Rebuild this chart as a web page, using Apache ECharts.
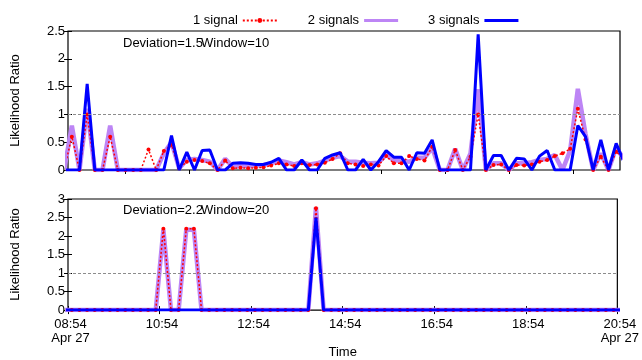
<!DOCTYPE html>
<html>
<head>
<meta charset="utf-8">
<script src="https://cdn.jsdelivr.net/npm/echarts@6/dist/echarts.min.js"></script>
<style>
html, body { margin: 0; padding: 0; background: #fff; }
#chart { width: 642px; height: 360px; }
</style>
</head>
<body>
<div id="chart"></div>
<script>
// Samples every 10 minutes; offsets are minutes after 08:54 (first and last lie just outside the axis)
const firstOffset = -5;
const stepMinutes = 10;
const axisStartMinutes = 8 * 60 + 54;
const axisSpanMinutes = 720;
const dateLabel = 'Apr 27';
const seriesNames = ['1 signal', '2 signals', '3 signals'];

// Window = 10
const oneSignalW10 = [0, 0.6, 0, 1.0, 0, 0, 0.6, 0, 0, 0, 0, 0.37, 0, 0.34, 0.45, 0.03, 0.15, 0.18, 0.16, 0.12, 0,
  0.17, 0.03, 0.04, 0.03, 0.04, 0.05, 0.08, 0.12, 0.1, 0.07, 0.12, 0.09, 0.1, 0.13, 0.2, 0.3, 0.12, 0.1, 0.07, 0.1,
  0.08, 0.25, 0.12, 0.12, 0.25, 0.2, 0.17, 0.42, 0, 0, 0.36, 0, 0.24, 1.0, 0, 0.09, 0.1, 0, 0.09, 0.08,
  0.1, 0.15, 0.18, 0.25, 0.3, 0.38, 1.1, 0.55, 0, 0.24, 0, 0.33, 0.2];
const twoSignalsW10 = [0, 0.8, 0, 1.1, 0, 0, 0.8, 0, 0, 0, 0, 0, 0, 0.3, 0.5, 0.03, 0.18, 0.2, 0.18, 0.15, 0,
  0.2, 0.06, 0.07, 0.07, 0.08, 0.09, 0.12, 0.17, 0.14, 0.1, 0.14, 0.1, 0.12, 0.17, 0.22, 0.25, 0.15, 0.15, 0.13, 0.12,
  0.13, 0.28, 0.17, 0.17, 0.15, 0.22, 0.22, 0.4, 0, 0, 0.38, 0, 0.3, 1.45, 0, 0.12, 0.12, 0, 0.12, 0.12,
  0.14, 0.18, 0.2, 0.27, 0, 0.35, 1.46, 0.65, 0, 0.3, 0, 0.4, 0.2];
const threeSignalsW10 = [0, 0, 0, 1.55, 0, 0, 0, 0, 0, 0, 0, 0, 0, 0, 0.62, 0, 0.32, 0, 0.35, 0.36, 0,
  0, 0.12, 0.13, 0.12, 0.1, 0.1, 0.14, 0.21, 0, 0, 0.18, 0, 0, 0.21, 0.27, 0.31, 0, 0, 0.19, 0,
  0.15, 0.35, 0.23, 0.23, 0, 0.31, 0.3, 0.54, 0, 0, 0, 0, 0, 2.44, 0, 0.26, 0.26, 0, 0.21, 0.2,
  0, 0.25, 0.35, 0, 0, 0, 0.8, 0.6, 0, 0.54, 0, 0.48, 0.15];

// Window = 20
const oneSignalW20 = [0, 0, 0, 0, 0, 0, 0, 0, 0, 0, 0, 0, 0, 2.2, 0, 0, 2.2, 2.2, 0, 0, 0,
  0, 0, 0, 0, 0, 0, 0, 0, 0, 0, 0, 0, 2.75, 0, 0, 0, 0, 0, 0, 0,
  0, 0, 0, 0, 0, 0, 0, 0, 0, 0, 0, 0, 0, 0, 0, 0, 0, 0, 0, 0,
  0, 0, 0, 0, 0, 0, 0, 0, 0, 0, 0, 0, 0];
const twoSignalsW20 = [0, 0, 0, 0, 0, 0, 0, 0, 0, 0, 0, 0, 0, 2.17, 0, 0, 2.17, 2.17, 0, 0, 0,
  0, 0, 0, 0, 0, 0, 0, 0, 0, 0, 0, 0, 2.78, 0, 0, 0, 0, 0, 0, 0,
  0, 0, 0, 0, 0, 0, 0, 0, 0, 0, 0, 0, 0, 0, 0, 0, 0, 0, 0, 0,
  0, 0, 0, 0, 0, 0, 0, 0, 0, 0, 0, 0, 0];
const threeSignalsW20 = [0, 0, 0, 0, 0, 0, 0, 0, 0, 0, 0, 0, 0, 0, 0, 0, 0, 0, 0, 0, 0,
  0, 0, 0, 0, 0, 0, 0, 0, 0, 0, 0, 0, 2.5, 0, 0, 0, 0, 0, 0, 0,
  0, 0, 0, 0, 0, 0, 0, 0, 0, 0, 0, 0, 0, 0, 0, 0, 0, 0, 0, 0,
  0, 0, 0, 0, 0, 0, 0, 0, 0, 0, 0, 0, 0];

const panelNotes = [
  { deviation: 'Deviation=1.5', window: 'Window=10' },
  { deviation: 'Deviation=2.2', window: 'Window=20' }
];
const upperBorderTicks = [74.7, 158.2, 241.7, 325.2, 408.7, 492.2, 575.7, 659.2];

const sampleOffsets = oneSignalW10.map((_, i) => firstOffset + i * stepMinutes);
const pairs = (vals) => vals.map((v, i) => [sampleOffsets[i], v]);

const FONT = '"Liberation Sans", Arial, Helvetica, sans-serif';
const colors = { one: '#ff0000', two: '#bd85f5', three: '#0000ff' };
const barIcon = 'path://M0,0H34V3H0Z';

function clock(offset) {
  const m = axisStartMinutes + offset;
  const h = Math.floor(m / 60) % 24;
  const mm = m % 60;
  return String(h).padStart(2, '0') + ':' + String(mm).padStart(2, '0');
}

function xAxes(gridIndex, withLabels) {
  return [{
    type: 'value', gridIndex, min: 0, max: axisSpanMinutes, interval: 120, position: 'bottom',
    axisLine: { show: false },
    axisTick: { show: withLabels, inside: true, length: 4, lineStyle: { color: '#000' } },
    axisLabel: {
      show: withLabels, color: '#000', fontFamily: FONT, fontSize: 13, margin: 7, lineHeight: 14,
      padding: [0, 0, 0, 5],
      showMinLabel: true, showMaxLabel: true,
      formatter: (v) => (v === 0 || v === axisSpanMinutes) ? clock(v) + '\n' + dateLabel : clock(v)
    },
    splitLine: { show: false },
    name: withLabels ? 'Time' : '', nameLocation: 'middle', nameGap: 30,
    nameTextStyle: { color: '#000', fontFamily: FONT, fontSize: 13 }
  }, {
    type: 'value', gridIndex, min: 0, max: axisSpanMinutes, position: 'top',
    interval: withLabels ? 120 : undefined,
    axisLine: { show: false },
    axisTick: withLabels
      ? { show: true, inside: true, length: 4, lineStyle: { color: '#000' } }
      : { show: true, inside: true, length: 4, customValues: upperBorderTicks, lineStyle: { color: '#000' } },
    axisLabel: { show: false },
    splitLine: { show: false }
  }];
}

function yAxes(gridIndex, max) {
  return [{
    type: 'value', gridIndex, min: 0, max, interval: 0.5, position: 'left',
    axisLine: { show: false },
    axisTick: { show: true, inside: true, length: 4, lineStyle: { color: '#000' } },
    axisLabel: { color: '#000', fontFamily: FONT, fontSize: 13, margin: 3 },
    splitLine: { show: false },
    name: 'Likelihood Ratio', nameLocation: 'middle', nameRotate: 90, nameGap: 46,
    nameTextStyle: { color: '#000', fontFamily: FONT, fontSize: 13 }
  }, {
    type: 'value', gridIndex, min: 0, max, interval: 0.5, position: 'right',
    axisLine: { show: false },
    axisTick: { show: true, inside: true, length: 4, lineStyle: { color: '#000' } },
    axisLabel: { show: false },
    splitLine: { show: false }
  }];
}

const thresholdLine = {
  silent: true, symbol: 'none', label: { show: false },
  lineStyle: { color: '#8c8c8c', type: [3, 2], width: 1 },
  data: [{ yAxis: 1 }]
};

function panelSeries(panel, one, two, three) {
  const x = panel * 2, y = panel * 2;
  return [{
    name: seriesNames[1], type: 'line', xAxisIndex: x, yAxisIndex: y, data: pairs(two),
    symbol: 'none', z: 2, color: colors.two,
    lineStyle: { color: colors.two, width: 4.5 },
    markLine: thresholdLine
  }, {
    name: seriesNames[0], type: 'line', xAxisIndex: x, yAxisIndex: y, data: pairs(one),
    symbol: 'circle', symbolSize: 4, z: 3, color: colors.one,
    itemStyle: { color: colors.one },
    lineStyle: { color: colors.one, width: 1.5, type: [2, 2] }
  }, {
    name: seriesNames[2], type: 'line', xAxisIndex: x, yAxisIndex: y, data: pairs(three),
    symbol: 'none', z: 4, color: colors.three,
    lineStyle: { color: colors.three, width: 3 }
  }];
}

const notes = [];
panelNotes.forEach((n, i) => {
  const top = i === 0 ? 37 : 204;
  notes.push({ type: 'text', left: 123, top, z: 10,
    style: { text: n.deviation, font: '13px ' + FONT, fill: '#000' } });
  notes.push({ type: 'text', left: 201, top, z: 10,
    style: { text: n.window, font: '13px ' + FONT, fill: '#000' } });
});

const chart = echarts.init(document.getElementById('chart'));
chart.setOption({
  animation: false,
  backgroundColor: '#fff',
  textStyle: { fontFamily: FONT },
  legend: {
    data: [
      { name: seriesNames[0] },
      { name: seriesNames[1], icon: barIcon },
      { name: seriesNames[2], icon: barIcon }
    ],
    top: 9, left: 188, align: 'right', itemGap: 30,
    itemWidth: 34, itemHeight: 6,
    textStyle: { color: '#000', fontFamily: FONT, fontSize: 13 }
  },
  grid: [
    { left: 68, right: 22, top: 31, height: 139, show: true, borderColor: '#000', borderWidth: 1.2 },
    { left: 68, right: 22, top: 199, height: 122.5, show: true, borderColor: '#000', borderWidth: 1.2 }
  ],
  xAxis: [...xAxes(0, false), ...xAxes(1, true)],
  yAxis: [...yAxes(0, 2.5), ...yAxes(1, 3)],
  series: [
    ...panelSeries(0, oneSignalW10, twoSignalsW10, threeSignalsW10),
    ...panelSeries(1, oneSignalW20, twoSignalsW20, threeSignalsW20)
  ],
  graphic: notes
});
</script>
</body>
</html>
